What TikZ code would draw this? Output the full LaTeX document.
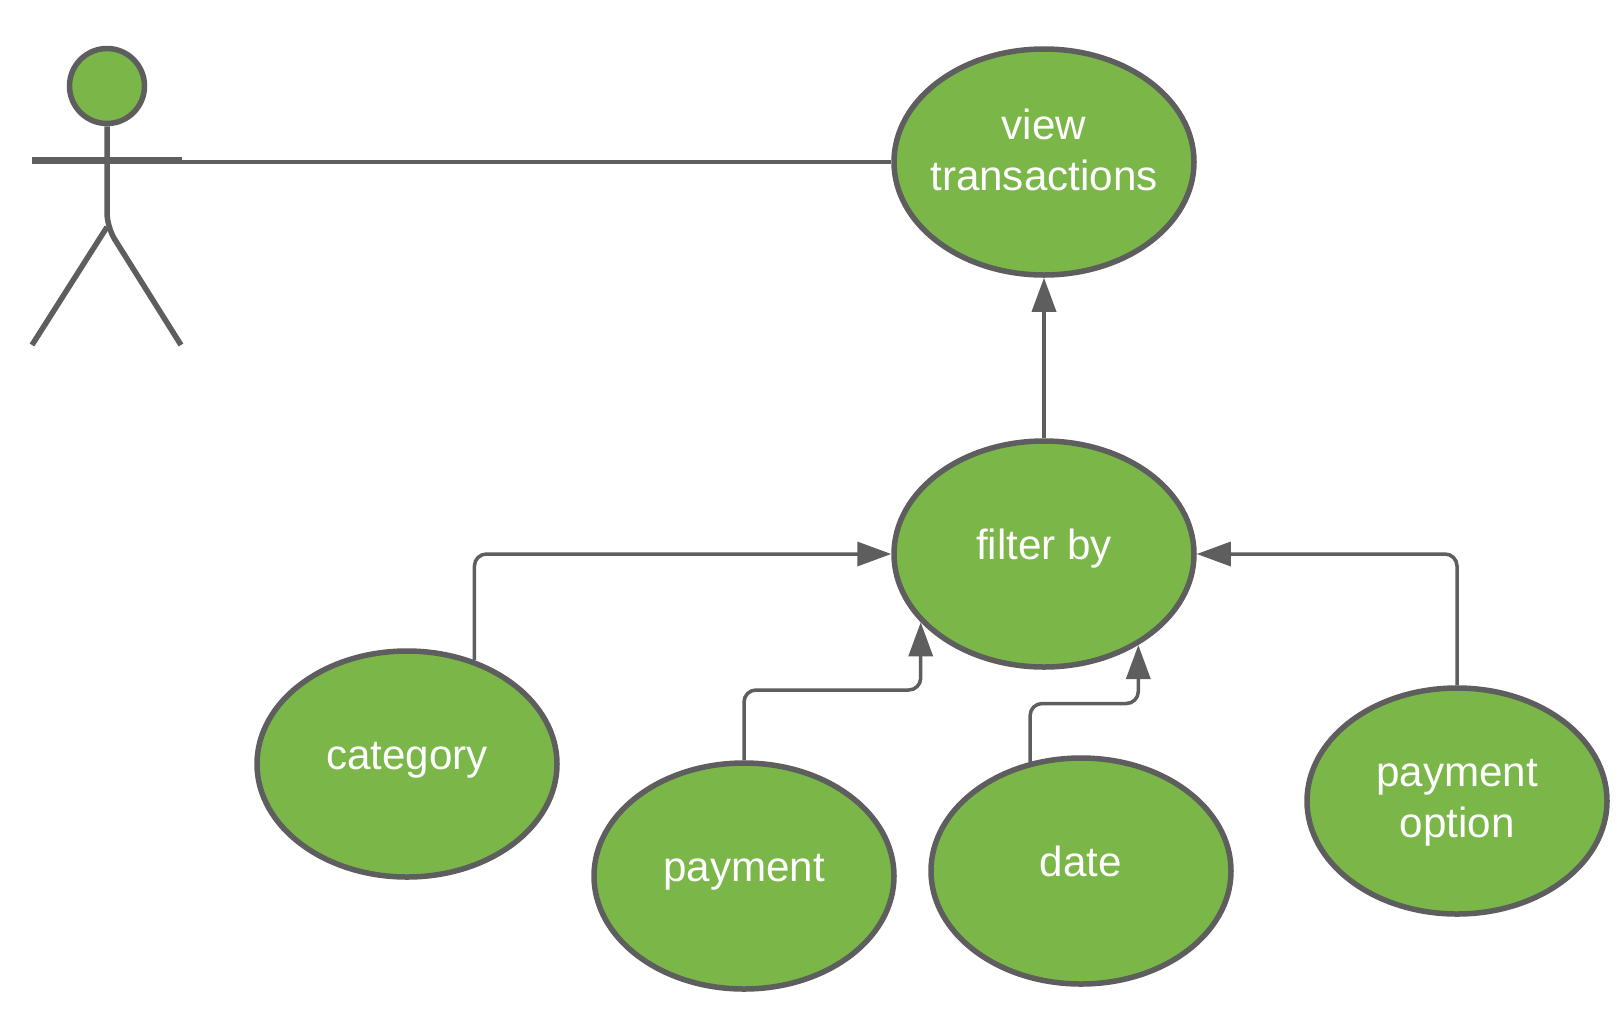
\documentclass[tikz,border=0pt]{standalone}
\usepackage{fontspec}
\setmainfont{Liberation Sans}
\usetikzlibrary{arrows.meta,shapes.geometric}
\definecolor{leaf}{HTML}{7AB648}
\definecolor{ink}{HTML}{5E5E5E}
\newcommand{\casetext}[2][-0.055cm]{\raisebox{#1}[0pt][0pt]{\makebox[0pt]{\begin{tabular}{@{}c@{}}#2\end{tabular}}}}
\tikzset{
  usecase/.style={ellipse, draw=ink, fill=leaf, line width=0.055cm, inner sep=0pt,
    minimum width=3cm, minimum height=2.26cm, text=white,
    font=\fontsize{12}{14.5}\selectfont},
  link/.style={draw=ink, line width=0.035cm, rounded corners=0.12cm},
  tolink/.style={link, -{Triangle[length=0.34cm,width=0.24cm]}},
  actorline/.style={draw=ink, line width=0.055cm}
}
\begin{document}
\begin{tikzpicture}
      \useasboundingbox (0,0) rectangle (16.23,10.09);
      % Actor
      \node[circle, actorline, fill=leaf, inner sep=0pt, minimum size=0.75cm] (head) at (1.07,9.23) {};
      \coordinate (hip) at (1.07,7.82);
      \coordinate (lfoot) at (0.32,6.64);
      \coordinate (rfoot) at (1.81,6.64);
      \coordinate (larm) at (0.32,8.485);
      \coordinate (rarm) at (1.82,8.485);
      \coordinate (armend) at (1.77,8.47);
      \draw[actorline, rounded corners=0.14cm] (head.south) -- (hip) -- (rfoot);
      \draw[actorline] (hip) -- (lfoot);
      \draw[actorline, line width=0.065cm] (larm) -- (rarm);

      % Use cases
      \node[usecase] (view) at (10.44,8.47) {\casetext[-0.035cm]{view\\transactions}};
      \node[usecase] (filter) at (10.44,4.55) {\casetext{filter by}};
      \node[usecase] (category) at (4.07,2.45) {\casetext{category}};
      \node[usecase] (payment) at (7.44,1.33) {\casetext{payment}};
      \node[usecase] (date) at (10.81,1.38) {\casetext{date}};
      \node[usecase] (option) at (14.57,2.08) {\casetext[-0.115cm]{payment\\option}};

      \coordinate (paybend) at (8.5,3.19);
      \coordinate (datebend) at (10.9,3.055);

      \draw[link] (armend) -- (view.west);
      \draw[tolink] (filter.north) -- (view.south);
      \draw[tolink] (category.57) |- (filter.west);
      \draw[tolink] (payment.north) |- (paybend) -| (filter.209);
      \draw[tolink] (date.115) |- (datebend) -| (filter.316);
      \draw[tolink] (option.north) |- (filter.east);
    \end{tikzpicture}
\end{document}
